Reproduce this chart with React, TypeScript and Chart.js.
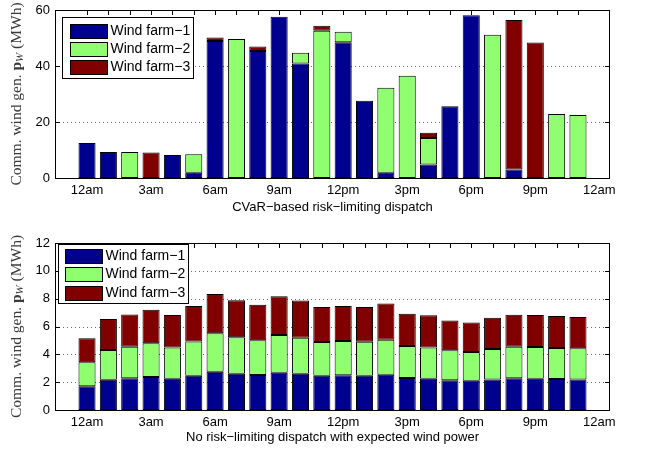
import React, { useEffect, useRef } from "react";
import { Chart, registerables } from "chart.js";

Chart.register(...registerables);

// ---------- data ----------
const hours = [0, 1, 2, 3, 4, 5, 6, 7, 8, 9, 10, 11, 12, 13, 14, 15, 16, 17, 18, 19, 20, 21, 22, 23];
const tickLabels = ["12am", "3am", "6am", "9am", "12pm", "3pm", "6pm", "9pm", "12am"];
const seriesNames = ["Wind farm\u22121", "Wind farm\u22122", "Wind farm\u22123"];
const seriesColors = ["#00008F", "#8FFF70", "#800000"];

// CVaR-based risk-limiting dispatch (MWh, stacked parts)
const cvarFarm1 = [12.5, 9.3, 0, 0, 8.2, 1.9, 48.9, 0, 45.4, 57.6, 40.9, 0, 48.5, 27.6, 1.9, 0, 4.8, 25.6, 58.1, 0, 3.0, 0, 0, 0];
const cvarFarm2 = [0, 0, 9.3, 0, 0, 6.6, 0, 49.6, 0, 0, 3.8, 52.6, 3.7, 0, 30.3, 36.5, 9.5, 0, 0, 51.2, 0, 0, 22.9, 22.5];
const cvarFarm3 = [0, 0, 0, 9.1, 0, 0, 1.3, 0, 1.6, 0, 0, 1.8, 0, 0, 0, 0, 1.9, 0, 0, 0, 53.4, 48.4, 0, 0];

// No risk-limiting dispatch with expected wind power
const expFarm1 = [1.70, 2.18, 2.28, 2.37, 2.25, 2.47, 2.75, 2.61, 2.51, 2.68, 2.61, 2.47, 2.49, 2.47, 2.54, 2.30, 2.25, 2.13, 2.11, 2.20, 2.28, 2.25, 2.23, 2.20];
const expFarm2 = [1.73, 2.13, 2.27, 2.42, 2.25, 2.46, 2.76, 2.61, 2.50, 2.71, 2.59, 2.42, 2.47, 2.44, 2.51, 2.30, 2.25, 2.16, 2.06, 2.18, 2.27, 2.28, 2.23, 2.23];
const expFarm3 = [1.72, 2.23, 2.32, 2.42, 2.33, 2.54, 2.83, 2.66, 2.56, 2.78, 2.66, 2.51, 2.51, 2.49, 2.61, 2.32, 2.30, 2.15, 2.11, 2.25, 2.30, 2.30, 2.29, 2.25];

const topTitle = "CVaR\u2212based risk\u2212limiting dispatch";
const bottomTitle = "No risk\u2212limiting dispatch with expected wind power";

const SANS = '"Liberation Sans", Arial, Helvetica, sans-serif';
const SERIF = '"Liberation Serif", "Times New Roman", serif';

type LegendGeom = { dx: number; dy: number; w: number; h: number; swDx: number; swW: number; swH: number; rows: number[]; textDx: number };

type PanelProps = {
  farms: number[][];
  yMax: number;
  yStep: number;
  title: string;
  top: number;
  height: number;
  padTop: number;
  xAxisH: number;
  titleDy: number;
  legend: LegendGeom;
};

function Panel(props: PanelProps) {
  const ref = useRef<HTMLCanvasElement | null>(null);
  useEffect(() => {
    const canvas = ref.current;
    if (!canvas) return;
    const { farms, yMax, yStep, title, padTop, xAxisH, titleDy, legend } = props;

    const deco = {
      id: "deco",
      beforeDatasetsDraw(chart: any) {
        const { ctx, chartArea } = chart;
        const xs = chart.scales.x;
        const ys = chart.scales.y;
        ctx.save();
        // dotted grid
        ctx.strokeStyle = "#6a6a6a";
        ctx.lineWidth = 1;
        ctx.setLineDash([1, 3]);
        ys.ticks.forEach((t: any) => {
          if (t.value <= 0 || t.value >= yMax) return;
          const y = Math.round(ys.getPixelForValue(t.value)) + 0.5;
          ctx.beginPath();
          ctx.moveTo(chartArea.left, y);
          ctx.lineTo(chartArea.right, y);
          ctx.stroke();
        });
        ctx.setLineDash([]);
        // inward tick marks
        ctx.strokeStyle = "#000";
        xs.ticks.forEach((t: any) => {
          if (t.value <= -1 || t.value >= 24) return;
          const x = Math.round(xs.getPixelForValue(t.value)) + 0.5;
          ctx.beginPath();
          ctx.moveTo(x, chartArea.bottom);
          ctx.lineTo(x, chartArea.bottom - 5);
          ctx.moveTo(x, chartArea.top);
          ctx.lineTo(x, chartArea.top + 5);
          ctx.stroke();
        });
        ys.ticks.forEach((t: any) => {
          if (t.value <= 0 || t.value >= yMax) return;
          const y = Math.round(ys.getPixelForValue(t.value)) + 0.5;
          ctx.beginPath();
          ctx.moveTo(chartArea.left, y);
          ctx.lineTo(chartArea.left + 5, y);
          ctx.moveTo(chartArea.right, y);
          ctx.lineTo(chartArea.right - 5, y);
          ctx.stroke();
        });
        ctx.restore();
      },
      afterDraw(chart: any) {
        const { ctx, chartArea } = chart;
        ctx.save();
        // frame
        ctx.strokeStyle = "#000";
        ctx.lineWidth = 1;
        ctx.strokeRect(Math.round(chartArea.left) + 0.5, Math.round(chartArea.top) + 0.5,
          Math.round(chartArea.right - chartArea.left) - 1, Math.round(chartArea.bottom - chartArea.top));

        // x title
        ctx.fillStyle = "#000";
        ctx.font = `13px ${SANS}`;
        ctx.textAlign = "center";
        ctx.textBaseline = "middle";
        ctx.fillText(title, (chartArea.left + chartArea.right) / 2, chartArea.bottom + titleDy);

        // y title (rotated, mixed fonts)
        const segs = [
          { t: "Comm. wind gen. ", f: `15.5px ${SERIF}`, dy: 0 },
          { t: "p", f: `bold 15.5px ${SERIF}`, dy: 0 },
          { t: "W", f: `italic 11px ${SERIF}`, dy: 3 },
          { t: " (MWh)", f: `15.5px ${SERIF}`, dy: 0 },
        ];
        let total = 0;
        segs.forEach((s) => { ctx.font = s.f; total += ctx.measureText(s.t).width; });
        ctx.translate(17, (chartArea.top + chartArea.bottom) / 2);
        ctx.rotate(-Math.PI / 2);
        ctx.fillStyle = "#3a3a3a";
        ctx.textAlign = "left";
        ctx.textBaseline = "middle";
        let cx = -total / 2;
        segs.forEach((s) => {
          ctx.font = s.f;
          ctx.fillText(s.t, cx, s.dy);
          cx += ctx.measureText(s.t).width;
        });
        ctx.restore();

        // legend
        ctx.save();
        const bx = Math.round(chartArea.left + legend.dx) + 0.5;
        const by = Math.round(chartArea.top + legend.dy) + 0.5;
        ctx.fillStyle = "#fff";
        ctx.fillRect(bx, by, legend.w, legend.h);
        ctx.strokeStyle = "#000";
        ctx.lineWidth = 1;
        ctx.strokeRect(bx, by, legend.w, legend.h);
        ctx.font = `14px ${SANS}`;
        ctx.textAlign = "left";
        ctx.textBaseline = "middle";
        seriesNames.forEach((name, i) => {
          const cy = by + legend.rows[i];
          const sx = bx + legend.swDx;
          const sy = Math.round(cy - legend.swH / 2) + 0.5;
          ctx.fillStyle = seriesColors[i];
          ctx.fillRect(sx, sy, legend.swW, legend.swH);
          ctx.strokeStyle = "#000";
          ctx.strokeRect(sx, sy, legend.swW, legend.swH);
          ctx.fillStyle = "#000";
          ctx.fillText(name, bx + legend.textDx, cy + 1);
        });
        ctx.restore();
      },
    };

    const chart = new Chart(canvas, {
      type: "bar",
      data: {
        datasets: farms.map((arr, i) => ({
          label: seriesNames[i],
          data: hours.map((h, k) => ({ x: h, y: arr[k] })),
          backgroundColor: seriesColors[i],
          borderColor: "#000",
          borderWidth: 1,
          borderSkipped: false,
          barPercentage: 0.8,
          categoryPercentage: 1,
        })),
      },
      options: {
        animation: false,
        responsive: false,
        maintainAspectRatio: false,
        layout: { padding: { left: 0, right: 35, top: padTop, bottom: 0 } },
        plugins: { legend: { display: false }, tooltip: { enabled: false }, title: { display: false } },
        scales: {
          x: {
            type: "linear",
            stacked: true,
            min: -1,
            max: 24,
            grid: { display: false, drawTicks: false },
            border: { display: false },
            afterFit: (s: any) => { s.height = xAxisH; s.paddingLeft = 0; s.paddingRight = 0; },
            ticks: {
              stepSize: 1,
              autoSkip: false,
              maxRotation: 0,
              padding: 5,
              color: "#000",
              font: { family: SANS, size: 13 },
              callback: (v: any) => {
                const n = Number(v);
                if (n >= 0 && n % 3 === 0) return tickLabels[n / 3];
                return "";
              },
            },
          },
          y: {
            stacked: true,
            min: 0,
            max: yMax,
            grid: { display: false, drawTicks: false },
            border: { display: false },
            afterFit: (s: any) => { s.width = 55; s.paddingTop = 0; s.paddingBottom = 0; },
            ticks: {
              stepSize: yStep,
              padding: 5,
              color: "#000",
              font: { family: SANS, size: 13 },
            },
          },
        },
      },
      plugins: [deco],
    } as any);
    return () => chart.destroy();
  }, []);

  return (
    <canvas
      ref={ref}
      width={645}
      height={props.height}
      style={{ position: "absolute", left: 0, top: props.top, width: 645, height: props.height }}
    />
  );
}

export default function App() {
  return (
    <div style={{ position: "absolute", left: 0, top: 0, width: 645, height: 449, background: "#fff" }}>
      <Panel
        farms={[cvarFarm1, cvarFarm2, cvarFarm3]}
        yMax={60}
        yStep={20}
        title={topTitle}
        top={0}
        height={225}
        padTop={10}
        xAxisH={47}
        titleDy={29}
        legend={{ dx: 7, dy: 7, w: 131, h: 61, swDx: 8, swW: 37, swH: 14, rows: [13, 31, 49], textDx: 48 }}
      />
      <Panel
        farms={[expFarm1, expFarm2, expFarm3]}
        yMax={12}
        yStep={2}
        title={bottomTitle}
        top={225}
        height={224}
        padTop={18}
        xAxisH={39}
        titleDy={27}
        legend={{ dx: 3, dy: 1, w: 130, h: 59, swDx: 7, swW: 37, swH: 14, rows: [11, 29, 48], textDx: 47 }}
      />
    </div>
  );
}
